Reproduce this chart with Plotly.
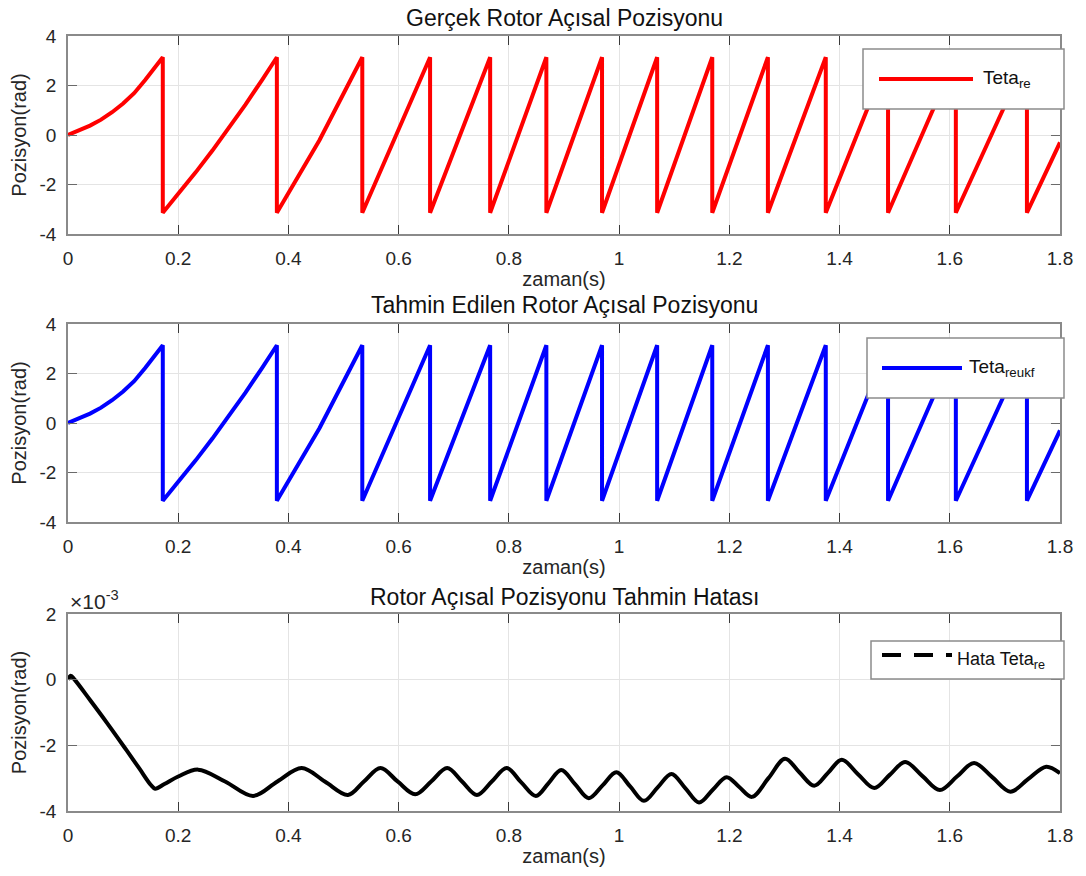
import numpy as np
import plotly.graph_objects as go

# ------------------------------------------------------------------ data
# Rotor angular position (rad): sawtooth wrapping at +/- pi
theta_t = [0.000, 0.020, 0.040, 0.060, 0.080, 0.100, 0.120, 0.140, 0.155, 0.172,
           0.172, 0.202, 0.232, 0.262, 0.292, 0.322, 0.352, 0.379,
           0.379, 0.4565, 0.534,
           0.534, 0.657,
           0.657, 0.766,
           0.766, 0.868,
           0.868, 0.969,
           0.969, 1.069,
           1.069, 1.169,
           1.169, 1.270,
           1.270, 1.375,
           1.375, 1.488,
           1.488, 1.611,
           1.611, 1.740,
           1.740, 1.800]
theta_re = [0.00, 0.18, 0.38, 0.62, 0.92, 1.27, 1.69, 2.22, 2.66, 3.14,
            -3.14, -2.34, -1.50, -0.63, 0.28, 1.23, 2.22, 3.14,
            -3.14, -0.20, 3.14,
            -3.14, 3.14,
            -3.14, 3.14,
            -3.14, 3.14,
            -3.14, 3.14,
            -3.14, 3.14,
            -3.14, 3.14,
            -3.14, 3.14,
            -3.14, 3.14,
            -3.14, 3.14,
            -3.14, 3.14,
            -3.14, 3.14,
            -3.14, -0.30]
# UKF estimate: visually identical to the real position at this scale
theta_reukf = [0.00, 0.18, 0.38, 0.62, 0.92, 1.27, 1.69, 2.22, 2.66, 3.14,
               -3.14, -2.34, -1.50, -0.63, 0.28, 1.23, 2.22, 3.14,
               -3.14, -0.20, 3.14,
               -3.14, 3.14,
               -3.14, 3.14,
               -3.14, 3.14,
               -3.14, 3.14,
               -3.14, 3.14,
               -3.14, 3.14,
               -3.14, 3.14,
               -3.14, 3.14,
               -3.14, 3.14,
               -3.14, 3.14,
               -3.14, 3.14,
               -3.14, -0.30]

# Estimation error, in units of 1e-3 rad
err_t = [0.000, 0.005, 0.012, 0.040, 0.070, 0.102, 0.130, 0.150, 0.158, 0.175,
         0.200, 0.236, 0.285, 0.336, 0.380, 0.424, 0.466, 0.508, 0.537, 0.567,
         0.598, 0.630, 0.659, 0.688, 0.715, 0.742, 0.769, 0.796, 0.822, 0.849,
         0.872, 0.895, 0.920, 0.945, 0.970, 0.995, 1.020, 1.045, 1.070, 1.095,
         1.120, 1.145, 1.170, 1.195, 1.218, 1.241, 1.271, 1.301, 1.327, 1.354,
         1.379, 1.404, 1.433, 1.463, 1.491, 1.519, 1.550, 1.582, 1.613, 1.644,
         1.677, 1.710, 1.742, 1.775, 1.800]
err_milli = [0.00, 0.12, 0.00, -0.62, -1.30, -2.05, -2.72, -3.20, -3.32, -3.18,
             -2.95, -2.74, -3.10, -3.54, -3.10, -2.69, -3.10, -3.51, -3.10, -2.69,
             -3.10, -3.49, -3.10, -2.69, -3.10, -3.51, -3.10, -2.69, -3.12, -3.54,
             -3.15, -2.75, -3.18, -3.61, -3.22, -2.82, -3.25, -3.69, -3.28, -2.87,
             -3.30, -3.74, -3.35, -2.97, -3.27, -3.57, -3.00, -2.41, -2.82, -3.23,
             -2.84, -2.44, -2.87, -3.30, -2.90, -2.51, -2.93, -3.36, -2.95, -2.54,
             -2.97, -3.41, -3.03, -2.65, -2.85]

x_tickvals = [0, 0.2, 0.4, 0.6, 0.8, 1.0, 1.2, 1.4, 1.6, 1.8]
x_ticktext = ["0", "0.2", "0.4", "0.6", "0.8", "1", "1.2", "1.4", "1.6", "1.8"]
pos_tickvals = [-4, -2, 0, 2, 4]
pos_ticktext = ["-4", "-2", "0", "2", "4"]
err_tickvals_milli = [-4, -2, 0, 2]
err_ticktext = ["-4", "-2", "0", "2"]

titles = ["Gerçek Rotor Açısal Pozisyonu",
          "Tahmin Edilen Rotor Açısal Pozisyonu",
          "Rotor Açısal Pozisyonu Tahmin Hatası"]
legend_names = ["Teta<sub>re</sub>", "Teta<sub>reukf</sub>", "Hata Teta<sub>re</sub>"]

# ------------------------------------------------------------------ layout helpers
W, H = 1086, 876
ML, MR, MT, MB = 68, 26, 36, 65
PW, PH = W - ML - MR, H - MT - MB


def px_x(x):
    return (x - ML) / PW


def px_y(y):
    return (H - MB - y) / PH


FONT = "Liberation Sans, Arial, Helvetica, sans-serif"
TXT = "#262626"

fig = go.Figure()
fig.add_trace(go.Scatter(x=theta_t, y=theta_re, mode="lines", name="Teta_re",
                         line=dict(color="#ff0000", width=4), xaxis="x", yaxis="y",
                         showlegend=False))
fig.add_trace(go.Scatter(x=theta_t, y=theta_reukf, mode="lines", name="Teta_reukf",
                         line=dict(color="#0000ff", width=4), xaxis="x2", yaxis="y2",
                         showlegend=False))
fig.add_trace(go.Scatter(x=err_t, y=np.array(err_milli) * 1e-3, mode="lines",
                         name="Hata Teta_re",
                         line=dict(color="#000000", width=4, shape="spline", smoothing=1.0),
                         xaxis="x3", yaxis="y3", showlegend=False))

xcommon = dict(range=[0, 1.8], tickvals=x_tickvals, ticktext=x_ticktext,
               showgrid=True, gridcolor="#e4e4e4", gridwidth=1, zeroline=False,
               showline=True, linecolor="#8a8a8a", linewidth=1.5, mirror="ticks",
               ticks="inside", ticklen=9, tickwidth=1, tickcolor="#3a3a3a",
               tickfont=dict(family=FONT, size=19, color=TXT),
               ticklabelstandoff=6,
               title=dict(text="zaman(s)", font=dict(family=FONT, size=20, color=TXT),
                          standoff=4))
ycommon = dict(showgrid=True, gridcolor="#e4e4e4", gridwidth=1, zeroline=False,
               showline=True, linecolor="#8a8a8a", linewidth=1.5, mirror="ticks",
               ticks="inside", ticklen=9, tickwidth=1, tickcolor="#6a6a6a",
               tickfont=dict(family=FONT, size=19, color=TXT),
               ticklabelstandoff=6,
               title=dict(text="Pozisyon(rad)", font=dict(family=FONT, size=20, color=TXT),
                          standoff=8))

doms = [[px_y(234), px_y(36)], [px_y(522), px_y(324)], [px_y(811), px_y(614)]]

layout = dict(width=W, height=H, autosize=False,
              margin=dict(l=ML, r=MR, t=MT, b=MB, pad=0),
              paper_bgcolor="white", plot_bgcolor="white",
              font=dict(family=FONT, color=TXT),
              showlegend=False)
for i, sfx in enumerate(["", "2", "3"]):
    xa = dict(xcommon)
    xa["anchor"] = "y" + sfx
    xa["domain"] = [0, 1]
    ya = dict(ycommon)
    ya["anchor"] = "x" + sfx
    ya["domain"] = doms[i]
    if i < 2:
        ya.update(range=[-4, 4], tickvals=pos_tickvals, ticktext=pos_ticktext)
    else:
        ya.update(range=[-4e-3, 2e-3],
                  tickvals=[v * 1e-3 for v in err_tickvals_milli],
                  ticktext=err_ticktext)
    layout["xaxis" + sfx] = xa
    layout["yaxis" + sfx] = ya
fig.update_layout(**layout)

# subplot titles
title_y = [18, 305, 597]
for t, yy in zip(titles, title_y):
    fig.add_annotation(text=t, x=px_x(564), y=px_y(yy), xref="paper", yref="paper",
                       showarrow=False, xanchor="center", yanchor="middle",
                       font=dict(family=FONT, size=23, color="#111111"))

# exponent label of the error plot
fig.add_annotation(text="×10<sup>-3</sup>", x=px_x(68), y=px_y(600), xref="paper", yref="paper",
                   showarrow=False, xanchor="left", yanchor="middle",
                   font=dict(family=FONT, size=21, color=TXT))

# legends (MATLAB-style boxes)
legend_boxes = [(863, 49, 1064, 109), (867, 338, 1064, 398), (871, 641, 1064, 679)]
legend_lines = [(879, 973, 79), (882, 962, 368), (882, 952, 655)]
legend_text_x = [981, 967, 955]
legend_text_y = [79, 368, 660]
legend_colors = ["#ff0000", "#0000ff", "#000000"]
legend_dash = ["solid", "solid", "19px,13px"]
legend_fs = [19, 19, 18]
for i in range(3):
    x0, y0, x1, y1 = legend_boxes[i]
    fig.add_shape(type="rect", xref="paper", yref="paper",
                  x0=px_x(x0), x1=px_x(x1), y0=px_y(y1), y1=px_y(y0),
                  line=dict(color="#8c8c8c", width=1.5), fillcolor="white", layer="above")
    lx0, lx1, ly = legend_lines[i]
    fig.add_shape(type="line", xref="paper", yref="paper",
                  x0=px_x(lx0), x1=px_x(lx1), y0=px_y(ly), y1=px_y(ly),
                  line=dict(color=legend_colors[i], width=4, dash=legend_dash[i]),
                  layer="above")
    fig.add_annotation(text=legend_names[i], x=px_x(legend_text_x[i]), y=px_y(legend_text_y[i]),
                       xref="paper", yref="paper", showarrow=False,
                       xanchor="left", yanchor="middle",
                       font=dict(family=FONT, size=legend_fs[i], color="#111111"))

fig.write_html("out.html")
